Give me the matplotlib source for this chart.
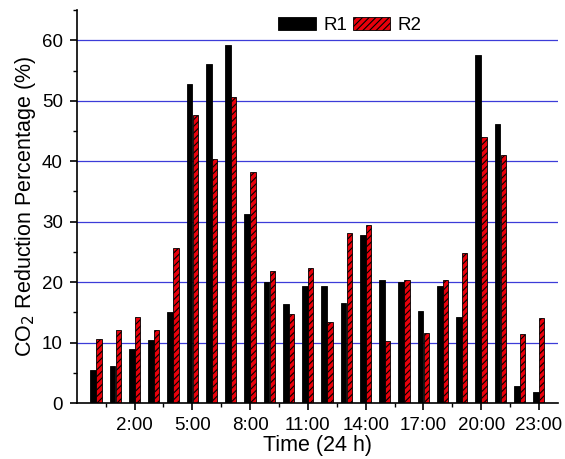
import numpy as np
import matplotlib
matplotlib.use("Agg")
from matplotlib import pyplot as plt

hours = np.arange(24)
r1 = [5.5, 6.2, 9.0, 10.4, 15.0, 52.8, 56.1, 59.3, 31.2, 20.1, 16.3, 19.3,
      19.4, 16.6, 27.8, 20.4, 20.1, 15.3, 19.4, 14.2, 57.5, 46.1, 2.8, 1.8]
r2 = [10.6, 12.1, 14.3, 12.1, 25.7, 47.6, 40.4, 50.6, 38.2, 21.9, 14.8, 22.4,
      13.4, 28.1, 29.5, 10.3, 20.3, 11.6, 20.4, 24.8, 44.0, 41.0, 11.4, 14.0]
tick_hours = [2, 5, 8, 11, 14, 17, 20, 23]
tick_labels = ["2:00", "5:00", "8:00", "11:00", "14:00", "17:00", "20:00", "23:00"]

plt.rcParams["font.family"] = "Liberation Sans"
plt.rcParams["font.size"] = 13.5
plt.rcParams["hatch.linewidth"] = 0.8

fig = plt.figure(figsize=(5.65, 4.59), dpi=100)
ax = fig.add_axes([0.136, 0.122, 0.852, 0.856])

w = 0.3
ax.bar(hours - w / 2, r1, width=w, color="black", edgecolor="black",
       linewidth=0.6, label="R1", zorder=2)
ax.bar(hours + w / 2, r2, width=w * 0.9, color="#e8000b", edgecolor="black",
       linewidth=0.6, hatch="/////", label="R2", zorder=2)

ax.set_xlim(-1, 24)
ax.set_ylim(0, 65)
ax.set_xticks(tick_hours)
ax.set_xticklabels(tick_labels)
ax.set_xticks(np.arange(0.5, 24, 3), minor=True)
ax.set_yticks(range(0, 61, 10))
ax.set_yticks(range(5, 66, 10), minor=True)

for y in range(10, 61, 10):
    ax.axhline(y, color="#3c3cd8", linewidth=0.9, zorder=1)

for s in ["top", "right"]:
    ax.spines[s].set_visible(False)
ax.spines["left"].set_linewidth(1.2)
ax.spines["bottom"].set_linewidth(1.2)
ax.tick_params(which="major", direction="out", length=5, width=1.2, pad=5)
ax.tick_params(which="minor", direction="out", length=3, width=1.0)

ax.set_xlabel("Time (24 h)", fontsize=15.5, labelpad=1)
ax.set_ylabel("CO$_2$ Reduction Percentage (%)", fontsize=15.5, labelpad=3)

ax.legend(ncol=2, frameon=False, loc="upper left",
          bbox_to_anchor=(0.479, 0.98), bbox_transform=fig.transFigure,
          handlelength=2.0, handleheight=0.7, columnspacing=0.3,
          handletextpad=0.4, borderaxespad=0)

fig.savefig("out.png", dpi=100)
